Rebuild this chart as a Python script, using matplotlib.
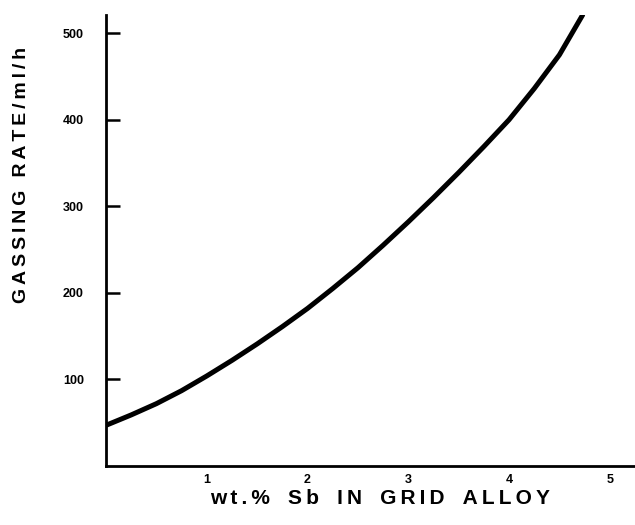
import matplotlib
matplotlib.use("Agg")
import matplotlib.pyplot as plt

# gassing rate vs antimony content of the grid alloy
sb_wt = [0, 0.25, 0.5, 0.75, 1, 1.25, 1.5, 1.75, 2, 2.25, 2.5, 2.75,
         3, 3.25, 3.5, 3.75, 4, 4.25, 4.5, 4.73]
gas_rate = [47, 59, 72, 87, 104, 122, 141, 161, 182, 205, 229, 255,
            282, 310, 339, 369, 400, 436, 475, 521]

x_ticks = [1, 2, 3, 4, 5]
y_ticks = [100, 200, 300, 400, 500]

x_title = 'wt.% Sb IN GRID ALLOY'
y_title = 'GASSING RATE/ml/h'

plt.rcParams['font.family'] = ['Liberation Sans', 'DejaVu Sans']


def spaced(s, word_gap='\u2009 \u2009'):
    # widen the tracking with thin spaces between letters
    return '\u2009'.join(s).replace('\u2009 \u2009', word_gap)


fig = plt.figure(figsize=(6.35, 5.25), dpi=100)
ax = fig.add_axes([106/635, 59/525, 1 - 106/635, (466 - 15)/525])

ax.plot(sb_wt, gas_rate, 'k-', lw=3.6, solid_capstyle='round')

ax.set_xlim(0, 5.25)
ax.set_ylim(0, 521)

for s in ['top', 'right']:
    ax.spines[s].set_visible(False)
for s in ['left', 'bottom']:
    ax.spines[s].set_linewidth(2.0)

ax.set_xticks(x_ticks)
ax.set_yticks(y_ticks)
ax.tick_params(axis='x', length=0, pad=6, labelsize=9)
ax.tick_params(axis='y', direction='in', length=10, width=1.8, pad=16, labelsize=9)
for lab in ax.get_xticklabels() + ax.get_yticklabels():
    lab.set_fontweight('bold')

fig.text(380/635, 1 - 498/525, spaced(x_title, '\u2009\u2009 \u2009'),
         ha='center', va='center', fontsize=15, fontweight='bold')
fig.text(22/635, 1 - 175/525, spaced(y_title), ha='center', va='center',
         rotation=90, fontsize=14, fontweight='bold')

fig.savefig('out.png', dpi=100)
